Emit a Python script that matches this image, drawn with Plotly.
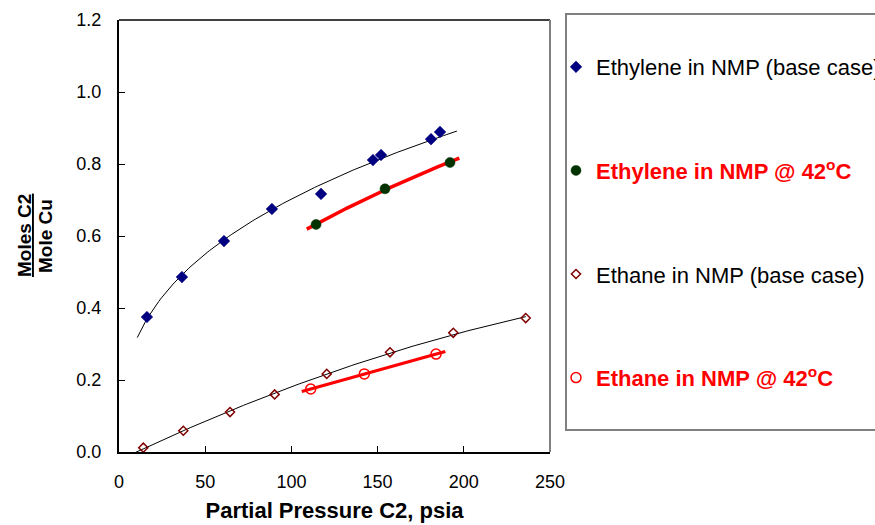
import numpy as np
import plotly.graph_objects as go

# ---- data ----
eth_base_x = [16.2, 36.5, 60.9, 88.7, 117.2, 147.3, 152.0, 181.0, 186.2]
eth_base_y = [0.375, 0.486, 0.586, 0.675, 0.717, 0.811, 0.825, 0.869, 0.889]

eth_42_x = [114.3, 154.3, 192.0]
eth_42_y = [0.632, 0.731, 0.804]

ethane_base_x = [14.1, 37.3, 64.4, 90.3, 120.5, 157.2, 193.9, 235.9]
ethane_base_y = [0.012, 0.059, 0.111, 0.160, 0.217, 0.277, 0.331, 0.372]

ethane_42_x = [111.2, 142.3, 183.9]
ethane_42_y = [0.175, 0.217, 0.272]

# trendline x-extents (as read)
eth_base_fit_range = [10.6, 196.0]
eth_42_fit_range = [108.9, 197.4]
ethane_base_fit_range = [9.3, 236.0]
ethane_42_fit_range = [106.0, 189.3]

names = [
    "Ethylene in NMP (base case)",
    "<b><span style='color:#FF0000'>Ethylene in NMP @ 42<sup>o</sup>C</span></b>",
    "Ethane in NMP (base case)",
    "<b><span style='color:#FF0000'>Ethane in NMP @ 42<sup>o</sup>C</span></b>",
]

x_ticks = [0, 50, 100, 150, 200, 250]
y_ticks = [0.0, 0.2, 0.4, 0.6, 0.8, 1.0, 1.2]


def power_fit(xs, ys, rng):
    b, ln_a = np.polyfit(np.log(xs), np.log(ys), 1)
    xx = np.linspace(rng[0], rng[1], 120)
    return xx, np.exp(ln_a) * xx ** b


def poly_fit(xs, ys, rng, deg):
    c = np.polyfit(xs, ys, deg)
    xx = np.linspace(rng[0], rng[1], 120)
    return xx, np.polyval(c, xx)


FONT = "Arial, Liberation Sans, sans-serif"

fig = go.Figure()

# trendlines
fx, fy = power_fit(eth_base_x, eth_base_y, eth_base_fit_range)
fig.add_trace(go.Scatter(x=fx, y=fy, mode="lines", line=dict(color="black", width=1),
                         showlegend=False, hoverinfo="skip"))
fx, fy = power_fit(eth_42_x, eth_42_y, eth_42_fit_range)
fig.add_trace(go.Scatter(x=fx, y=fy, mode="lines", line=dict(color="#FF0000", width=3.5),
                         showlegend=False, hoverinfo="skip"))
fx, fy = poly_fit(ethane_base_x, ethane_base_y, ethane_base_fit_range, 2)
fig.add_trace(go.Scatter(x=fx, y=fy, mode="lines", line=dict(color="black", width=1),
                         showlegend=False, hoverinfo="skip"))
fx, fy = poly_fit(ethane_42_x, ethane_42_y, ethane_42_fit_range, 1)
fig.add_trace(go.Scatter(x=fx, y=fy, mode="lines", line=dict(color="#FF0000", width=3),
                         showlegend=False, hoverinfo="skip"))

# data markers
fig.add_trace(go.Scatter(x=eth_base_x, y=eth_base_y, mode="markers", name=names[0],
                         legendgroup="a",
                         marker=dict(symbol="diamond", size=9, color="#000080",
                                     line=dict(color="#000080", width=0.5))))
fig.add_trace(go.Scatter(x=eth_42_x, y=eth_42_y, mode="markers", name=names[1],
                         legendgroup="b",
                         marker=dict(symbol="circle", size=10, color="#003300",
                                     line=dict(color="#003300", width=0.5))))
fig.add_trace(go.Scatter(x=ethane_base_x, y=ethane_base_y, mode="markers", name=names[2],
                         legendgroup="c",
                         marker=dict(symbol="diamond-open", size=7, color="#800000",
                                     line=dict(color="#800000", width=1.5))))
fig.add_trace(go.Scatter(x=ethane_42_x, y=ethane_42_y, mode="markers", name=names[3],
                         legendgroup="d",
                         marker=dict(symbol="circle-open", size=10, color="#FF0000",
                                     line=dict(color="#FF0000", width=1.5))))

L, R, T, B = 119, 325, 20, 73
PW, PH = 875 - L - R, 525 - T - B


def px_x(p):
    return (p - L) / PW


def px_y(p):
    return (525 - B - p) / PH


shapes = [
    # top border
    dict(type="line", xref="paper", yref="paper", x0=0, x1=1, y0=1, y1=1,
         line=dict(color="black", width=1.5)),
    # right border
    dict(type="line", xref="paper", yref="paper", x0=1, x1=1, y0=0, y1=1,
         line=dict(color="#808080", width=2)),
    # legend box
    dict(type="rect", xref="paper", yref="paper", x0=px_x(566), x1=px_x(890),
         y0=px_y(430), y1=px_y(14), line=dict(color="#808080", width=2),
         fillcolor="rgba(0,0,0,0)"),
]

annotations = [
    dict(text="<b><u>Moles C2</u></b>", xref="paper", yref="paper", x=px_x(24), y=px_y(236),
         textangle=-90, showarrow=False, xanchor="center", yanchor="middle",
         font=dict(family=FONT, size=19, color="black")),
    dict(text="<b>Mole Cu</b>", xref="paper", yref="paper", x=px_x(45), y=px_y(236),
         textangle=-90, showarrow=False, xanchor="center", yanchor="middle",
         font=dict(family=FONT, size=19, color="black")),
]

fig.update_layout(
    width=875, height=525,
    margin=dict(l=L, r=R, t=T, b=B, autoexpand=False),
    paper_bgcolor="white", plot_bgcolor="white",
    font=dict(family=FONT, size=18, color="black"),
    showlegend=True,
    legend=dict(x=px_x(556), y=px_y(46), xanchor="left", yanchor="top",
                font=dict(family=FONT, size=22, color="black"),
                bgcolor="rgba(0,0,0,0)", borderwidth=0,
                tracegroupgap=72, itemsizing="trace"),
    shapes=shapes,
    annotations=annotations,
    xaxis=dict(range=[0, 250], tickvals=x_ticks, ticktext=[str(v) for v in x_ticks],
               ticks="inside", ticklen=6, tickcolor="black", tickwidth=1,
               showline=True, linecolor="black", linewidth=2, showgrid=False,
               zeroline=False, ticklabelstandoff=12,
               tickfont=dict(family=FONT, size=18, color="black"),
               title=dict(text="<b>Partial Pressure C2, psia</b>", standoff=12,
                          font=dict(family=FONT, size=22, color="black"))),
    yaxis=dict(range=[0, 1.2], tickvals=y_ticks, ticktext=[f"{v:.1f}" for v in y_ticks],
               ticks="inside", ticklen=6, tickcolor="black", tickwidth=1,
               showline=True, linecolor="black", linewidth=2, showgrid=False,
               zeroline=False, ticklabelstandoff=12,
               tickfont=dict(family=FONT, size=18, color="black")),
)

fig.write_html("out.html", config={"displayModeBar": False},
               post_script="document.body.style.margin='0px';")
